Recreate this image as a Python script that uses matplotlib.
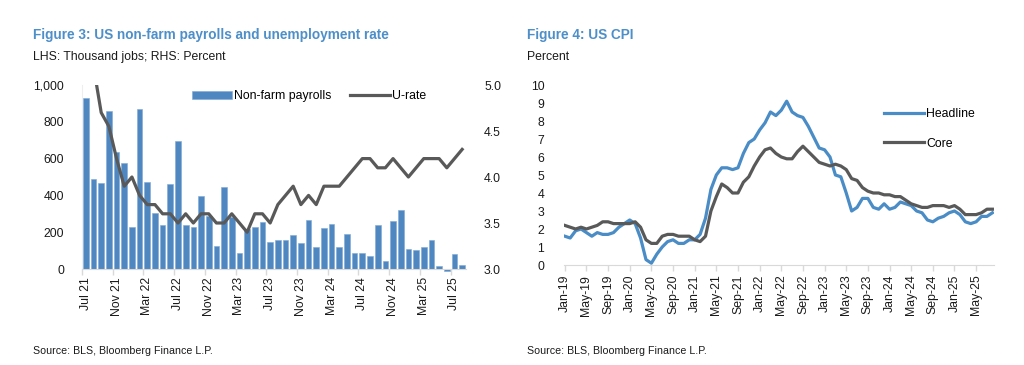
import numpy as np
import matplotlib
matplotlib.use("Agg")
import matplotlib.pyplot as plt
from matplotlib.ticker import FuncFormatter

plt.rcParams["font.family"] = ["Liberation Sans", "DejaVu Sans"]

# Figure 3 data: Jul 21 .. Aug 25 (monthly)
payroll_months = ["Jul 21", "Nov 21", "Mar 22", "Jul 22", "Nov 22", "Mar 23", "Jul 23",
                  "Nov 23", "Mar 24", "Jul 24", "Nov 24", "Mar 25", "Jul 25"]
payrolls = [928, 487, 466, 857, 636, 576, 226, 870, 473, 304, 241, 462,
            697, 237, 226, 399, 290, 127, 443, 285, 87, 220, 226, 255,
            147, 158, 158, 187, 141, 268, 118, 221, 246, 118, 192, 87,
            87, 72, 239, 43, 261, 322, 110, 103, 121, 158, 18, -11,
            80, 22]
u_rate = [5.4, 5.2, 4.7, 4.55, 4.2, 3.9, 4.0, 3.8, 3.7, 3.7, 3.6, 3.6,
          3.5, 3.6, 3.5, 3.6, 3.6, 3.5, 3.5, 3.6, 3.5, 3.4, 3.6, 3.6,
          3.5, 3.7, 3.8, 3.9, 3.7, 3.8, 3.7, 3.9, 3.9, 3.9, 4.0, 4.1,
          4.2, 4.2, 4.1, 4.1, 4.2, 4.1, 4.0, 4.1, 4.2, 4.2, 4.2, 4.1,
          4.2, 4.3]

# Figure 4 data: Jan 19 .. Aug 25 (monthly, % y/y)
cpi_labels = ["Jan-19", "May-19", "Sep-19", "Jan-20", "May-20", "Sep-20", "Jan-21",
              "May-21", "Sep-21", "Jan-22", "May-22", "Sep-22", "Jan-23", "May-23",
              "Sep-23", "Jan-24", "May-24", "Sep-24", "Jan-25", "May-25"]
headline = [1.6, 1.5, 1.9, 2.0, 1.8, 1.6, 1.8, 1.7, 1.7, 1.8, 2.1, 2.3,
            2.5, 2.3, 1.5, 0.3, 0.1, 0.6, 1.0, 1.3, 1.4, 1.2, 1.2, 1.4,
            1.4, 1.7, 2.6, 4.2, 5.0, 5.4, 5.4, 5.3, 5.4, 6.2, 6.8, 7.0,
            7.5, 7.9, 8.5, 8.3, 8.6, 9.1, 8.5, 8.3, 8.2, 7.7, 7.1, 6.5,
            6.4, 6.0, 5.0, 4.9, 4.0, 3.0, 3.2, 3.7, 3.7, 3.2, 3.1, 3.4,
            3.1, 3.2, 3.5, 3.4, 3.3, 3.0, 2.9, 2.5, 2.4, 2.6, 2.7, 2.9,
            3.0, 2.8, 2.4, 2.3, 2.4, 2.7, 2.7, 2.9]
core = [2.2, 2.1, 2.0, 2.1, 2.0, 2.1, 2.2, 2.4, 2.4, 2.3, 2.3, 2.3,
        2.3, 2.4, 2.1, 1.4, 1.2, 1.2, 1.6, 1.7, 1.7, 1.6, 1.6, 1.6,
        1.4, 1.3, 1.6, 3.0, 3.8, 4.5, 4.3, 4.0, 4.0, 4.6, 4.9, 5.5,
        6.0, 6.4, 6.5, 6.2, 6.0, 5.9, 5.9, 6.3, 6.6, 6.3, 6.0, 5.7,
        5.6, 5.5, 5.6, 5.5, 5.3, 4.8, 4.7, 4.3, 4.1, 4.0, 4.0, 3.9,
        3.9, 3.8, 3.8, 3.6, 3.4, 3.3, 3.2, 3.2, 3.3, 3.3, 3.3, 3.2,
        3.3, 3.1, 2.8, 2.8, 2.8, 2.9, 3.1, 3.1]

BLUE = "#4f87c0"
LINE_BLUE = "#4a8cc6"
GREY = "#595959"
TITLE_BLUE = "#4d8fc9"
AXIS_GREY = "#d9d9d9"
TXT = "#1a1a1a"
FS = 8.8

fig = plt.figure(figsize=(10.24, 3.65), dpi=100)

# ---------- Figure 3 ----------
ax1 = fig.add_axes([82 / 1024, 1 - 269 / 365, 384 / 1024, 184 / 365])
x = np.arange(len(payrolls))
bars = ax1.bar(x, payrolls, width=0.74, color=BLUE, edgecolor="#7fa9d6",
               linewidth=0.4, label="Non-farm payrolls", zorder=2)
for b in bars:
    b.set_clip_on(False)
ax1.set_xlim(-0.5, len(payrolls) - 0.5)
ax1.set_ylim(0, 1000)
ax1.set_yticks(range(0, 1001, 200))
ax1.yaxis.set_major_formatter(FuncFormatter(lambda v, p: f"{int(v):,}"))
ax1.set_xticks(np.arange(-0.5, len(payrolls), 4))
ax1.set_xticklabels([])
ax1.set_xticks(np.arange(0, len(payrolls), 4), minor=True)
ax1.set_xticklabels(payroll_months, minor=True, rotation=90, fontsize=FS, color=TXT)
ax1.tick_params(axis="x", which="major", length=4, color=AXIS_GREY, width=1)
ax1.tick_params(axis="x", which="minor", length=0, pad=6)
ax1.tick_params(axis="y", length=0, pad=13, labelsize=FS, labelcolor=TXT)
for s in ["top", "right"]:
    ax1.spines[s].set_visible(False)
ax1.spines["bottom"].set_color(AXIS_GREY)
ax1.spines["left"].set_color("#eeeeee")

ax2 = ax1.twinx()
ax2.plot(x, u_rate, color=GREY, linewidth=2.3, label="U-rate", zorder=3)
ax2.set_ylim(3.0, 5.0)
ax2.set_yticks(np.arange(3.0, 5.01, 0.5))
ax2.yaxis.set_major_formatter(FuncFormatter(lambda v, p: f"{v:.1f}"))
ax2.tick_params(axis="y", length=0, pad=13, labelsize=FS, labelcolor=TXT)
for s in ["top", "right", "left", "bottom"]:
    ax2.spines[s].set_visible(False)

h1, l1 = ax1.get_legend_handles_labels()
h2, l2 = ax2.get_legend_handles_labels()
ax2.legend(h1 + h2, l1 + l2, ncol=2, frameon=False, fontsize=FS,
           loc="center left", bbox_to_anchor=(192 / 1024, 1 - 96 / 365),
           bbox_transform=fig.transFigure, handlelength=3.3, handleheight=0.6,
           handletextpad=0.15, columnspacing=1.5, borderpad=0, borderaxespad=0)

fig.text(33 / 1024, 1 - 35 / 365, "Figure 3: US non-farm payrolls and unemployment rate",
         fontsize=9.8, fontweight="bold", color=TITLE_BLUE, va="center")
fig.text(33 / 1024, 1 - 57 / 365, "LHS: Thousand jobs; RHS: Percent",
         fontsize=8.85, color=TXT, va="center")
fig.text(33 / 1024, 1 - 351 / 365, "Source: BLS, Bloomberg Finance L.P.",
         fontsize=7.7, color=TXT, va="center")

# ---------- Figure 4 ----------
ax3 = fig.add_axes([563.7 / 1024, 1 - 265 / 365, 430.3 / 1024, 180 / 365])
t = np.arange(len(headline))
ax3.plot(t, headline, color=LINE_BLUE, linewidth=2.3, label="Headline")
ax3.plot(t, core, color=GREY, linewidth=2.3, label="Core")
ax3.set_xlim(-0.2, 79.3)
ax3.set_ylim(0, 10)
ax3.set_yticks(range(0, 11))
ax3.set_xticks(np.arange(0, 80, 4))
ax3.set_xticklabels(cpi_labels, rotation=90, fontsize=FS, color=TXT)
ax3.tick_params(axis="x", length=4, color=AXIS_GREY, width=1, pad=3)
ax3.tick_params(axis="y", length=0, pad=14, labelsize=FS, labelcolor=TXT)
for s in ["top", "right", "left"]:
    ax3.spines[s].set_visible(False)
ax3.spines["bottom"].set_color(AXIS_GREY)
ax3.legend(frameon=False, fontsize=FS, loc="upper left",
           bbox_to_anchor=(884 / 1024, 1 - 108 / 365), bbox_transform=fig.transFigure,
           handlelength=3.3, handletextpad=0.15, labelspacing=1.45,
           borderpad=0, borderaxespad=0)

fig.text(527 / 1024, 1 - 35 / 365, "Figure 4: US CPI",
         fontsize=9.8, fontweight="bold", color=TITLE_BLUE, va="center")
fig.text(527 / 1024, 1 - 57 / 365, "Percent", fontsize=8.85, color=TXT, va="center")
fig.text(527 / 1024, 1 - 351 / 365, "Source: BLS, Bloomberg Finance L.P.",
         fontsize=7.7, color=TXT, va="center")

fig.savefig("out.png", dpi=100)
